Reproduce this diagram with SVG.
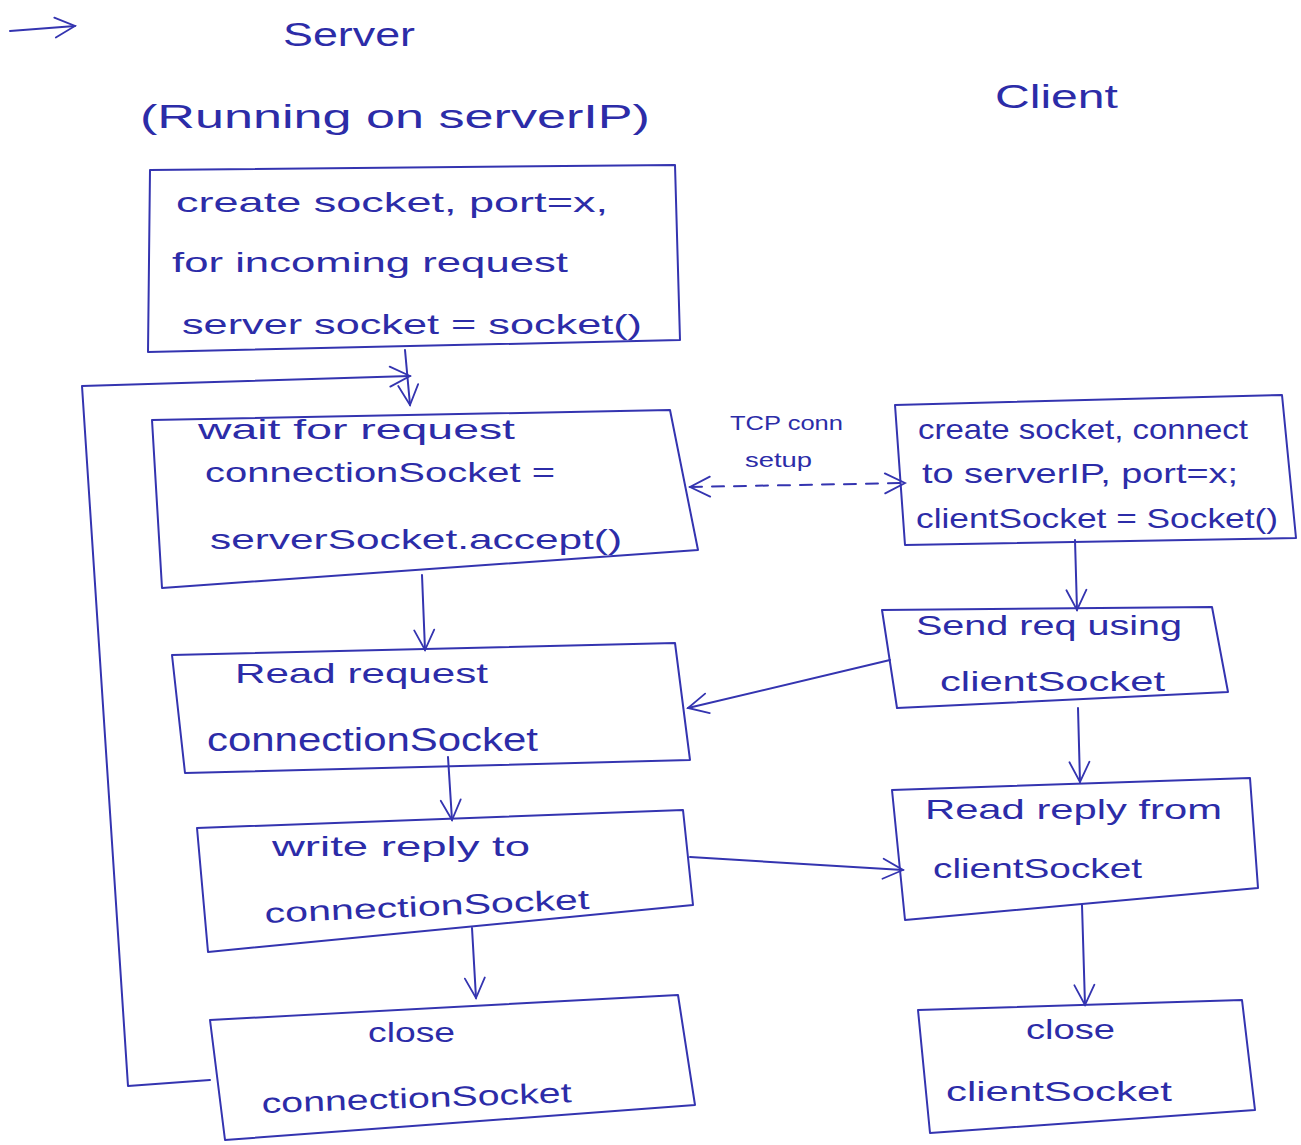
<svg xmlns="http://www.w3.org/2000/svg" width="1301" height="1145" viewBox="0 0 1301 1145">
<defs>
<style>
.ink{fill:none;stroke:#3434b0;stroke-width:2;stroke-linejoin:round;stroke-linecap:round}
.box{fill:none;stroke:#3434b0;stroke-width:2;stroke-linejoin:round}
.t{font-family:"Liberation Sans","Noto Sans",sans-serif;fill:#2c2ca8;font-size:28px}
.tl{font-family:"Liberation Sans","Noto Sans",sans-serif;fill:#2c2ca8;font-size:34px}
.ts{font-family:"Liberation Sans","Noto Sans",sans-serif;fill:#2c2ca8;font-size:21px}
</style>
<marker id="ahb" viewBox="0 0 24 24" refX="22" refY="12" markerWidth="24" markerHeight="24" markerUnits="userSpaceOnUse" orient="auto-start-reverse">
<path d="M2 2 L22 12 L2 22" fill="none" stroke="#3434b0" stroke-width="1.8" stroke-linecap="round"/>
</marker>
</defs>
<rect width="1301" height="1145" fill="#ffffff"/>

<g id="titles">
<path class="ink" d="M10 31 L75 26" marker-end="url(#ahb)"/>
<text class="tl" x="283" y="46" textLength="132" lengthAdjust="spacingAndGlyphs">Server</text>
<text class="tl" x="140" y="128" textLength="510" lengthAdjust="spacingAndGlyphs">(Running on serverIP)</text>
<text class="tl" x="995" y="108" textLength="123" lengthAdjust="spacingAndGlyphs">Client</text>
</g>

<g id="connectors">
<path class="ink" d="M405 350 L410 405" marker-end="url(#ahb)"/>
<path class="ink" d="M210 1080 L128 1086 L82 386 L410 376" marker-end="url(#ahb)"/>
<path class="ink" d="M422 575 L425 650" marker-end="url(#ahb)"/>
<path class="ink" d="M448 757 L452 820" marker-end="url(#ahb)"/>
<path class="ink" d="M472 928 L476 998" marker-end="url(#ahb)"/>
<path class="ink" d="M690 487 L905 483" stroke-dasharray="12 10" marker-start="url(#ahb)" marker-end="url(#ahb)"/>
<path class="ink" d="M1075 540 L1077 610" marker-end="url(#ahb)"/>
<path class="ink" d="M890 660 L688 708" marker-end="url(#ahb)"/>
<path class="ink" d="M1078 708 L1080 782" marker-end="url(#ahb)"/>
<path class="ink" d="M690 857 L903 870" marker-end="url(#ahb)"/>
<path class="ink" d="M1082 905 L1085 1005" marker-end="url(#ahb)"/>
<text class="ts" x="730" y="430" textLength="113" lengthAdjust="spacingAndGlyphs">TCP conn</text>
<text class="ts" x="745" y="467" textLength="67" lengthAdjust="spacingAndGlyphs">setup</text>
</g>

<g id="s1">
<path class="box" d="M150 170 L675 165 L680 340 L148 352 Z"/>
<text class="t" x="176" y="212" textLength="432" lengthAdjust="spacingAndGlyphs">create socket, port=x,</text>
<text class="t" x="172" y="272" textLength="396" lengthAdjust="spacingAndGlyphs">for incoming request</text>
<text class="t" x="182" y="334" textLength="460" lengthAdjust="spacingAndGlyphs">server socket = socket()</text>
</g>

<g id="s2">
<path class="box" d="M152 420 L670 410 L698 550 L162 588 Z"/>
<text class="t" x="198" y="439" textLength="317" lengthAdjust="spacingAndGlyphs">wait for request</text>
<text class="t" x="205" y="482" textLength="350" lengthAdjust="spacingAndGlyphs">connectionSocket =</text>
<text class="t" x="210" y="549" textLength="412" lengthAdjust="spacingAndGlyphs">serverSocket.accept()</text>
</g>

<g id="s3">
<path class="box" d="M172 655 L675 643 L690 760 L185 773 Z"/>
<text class="t" x="235" y="683" textLength="253" lengthAdjust="spacingAndGlyphs">Read request</text>
<text class="tl" x="207" y="751" textLength="331" lengthAdjust="spacingAndGlyphs">connectionSocket</text>
</g>

<g id="s4">
<path class="box" d="M197 828 L683 810 L693 905 L208 952 Z"/>
<text class="t" x="272" y="856" textLength="258" lengthAdjust="spacingAndGlyphs">write reply to</text>
<text class="t" x="265" y="923" textLength="325" lengthAdjust="spacingAndGlyphs" transform="rotate(-2.5 265 923)">connectionSocket</text>
</g>

<g id="s5">
<path class="box" d="M210 1020 L678 995 L695 1105 L225 1140 Z"/>
<text class="t" x="368" y="1042" textLength="87" lengthAdjust="spacingAndGlyphs">close</text>
<text class="t" x="262" y="1113" textLength="310" lengthAdjust="spacingAndGlyphs" transform="rotate(-2 262 1113)">connectionSocket</text>
</g>

<g id="c1">
<path class="box" d="M895 405 L1282 395 L1296 538 L905 545 Z"/>
<text class="t" x="918" y="439" textLength="330" lengthAdjust="spacingAndGlyphs">create socket, connect</text>
<text class="t" x="922" y="483" textLength="316" lengthAdjust="spacingAndGlyphs">to serverIP, port=x;</text>
<text class="t" x="916" y="528" textLength="362" lengthAdjust="spacingAndGlyphs">clientSocket = Socket()</text>
</g>

<g id="c2">
<path class="box" d="M882 610 L1212 607 L1228 692 L897 708 Z"/>
<text class="t" x="916" y="635" textLength="266" lengthAdjust="spacingAndGlyphs">Send req using</text>
<text class="t" x="940" y="691" textLength="225" lengthAdjust="spacingAndGlyphs">clientSocket</text>
</g>

<g id="c3">
<path class="box" d="M892 790 L1250 778 L1258 888 L905 920 Z"/>
<text class="t" x="925" y="819" textLength="297" lengthAdjust="spacingAndGlyphs">Read reply from</text>
<text class="t" x="933" y="878" textLength="209" lengthAdjust="spacingAndGlyphs">clientSocket</text>
</g>

<g id="c4">
<path class="box" d="M918 1010 L1242 1000 L1255 1110 L930 1133 Z"/>
<text class="t" x="1026" y="1039" textLength="89" lengthAdjust="spacingAndGlyphs">close</text>
<text class="t" x="946" y="1101" textLength="226" lengthAdjust="spacingAndGlyphs">clientSocket</text>
</g>
</svg>
